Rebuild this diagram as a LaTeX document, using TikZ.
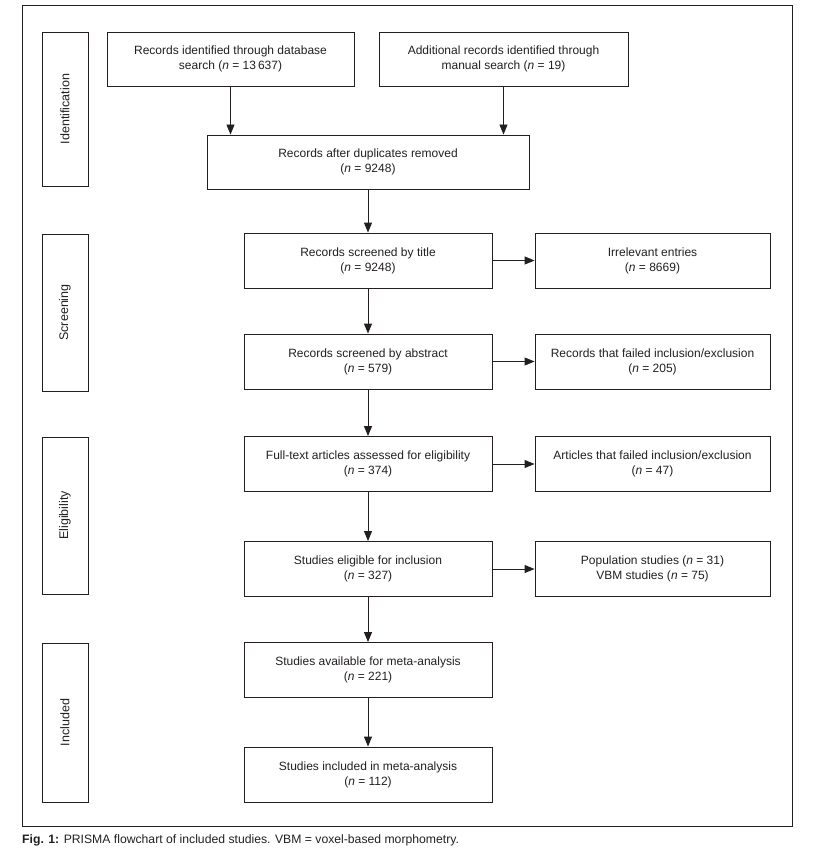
\documentclass[tikz,border=0pt]{standalone}
\usepackage{fontspec}
\setmainfont{Liberation Sans}
\usepackage{tikz}
\definecolor{ink}{RGB}{35, 31, 32}
\usetikzlibrary{positioning}
\usetikzlibrary{arrows.meta}

\begin{document}
\begin{tikzpicture}
				[x=1pt,y=-1pt,every node/.style={inner sep=0pt},
				box/.style={rectangle, draw=ink, line width=0.9pt, align=center, font=\fontsize{12}{15}\selectfont, text=ink},
				stage/.style={rectangle, draw=ink, line width=0.9pt, minimum width=46pt},
				stagelabel/.style={rotate=90, font=\fontsize{12.5}{15}\selectfont, text=ink},
				flow/.style={line width=0.9pt, color=ink, -{Triangle[length=10pt,width=8pt]}}]
				\useasboundingbox (0,0) rectangle (820,856);
				\draw [line width=0.9pt, color=ink] (22,5) rectangle (792,826);
				% stage boxes on the left
				\node (sident) [stage, minimum height=154pt] at (65, 109) {};
				\node (sscreen) [stage, minimum height=157pt] at (65, 312.5) {};
				\node (selig) [stage, minimum height=157pt] at (65, 515.5) {};
				\node (sincl) [stage, minimum height=159pt] at (65, 722.5) {};
				\node (lident) [stagelabel] at (sident) {Identification};
				\node (lscreen) [stagelabel] at (sscreen) {Screening};
				\node (lelig) [stagelabel] at (selig) {Eligibility};
				\node (lincl) [stagelabel] at (sincl) {Included};
				% main column
				\node (db) [box, minimum width=247pt, minimum height=54pt] at (230.5, 59) {Records identified through database\\search (\textit{n} = 13\,637)};
				\node (add) [box, minimum width=249pt, minimum height=54pt] at (503.5, 59) {Additional records identified through\\manual search (\textit{n} = 19)};
				\node (dup) [box, minimum width=322pt, minimum height=54pt] at (368, 162) {Records after duplicates removed\\(\textit{n} = 9248)};
				\node (title) [box, minimum width=248pt, minimum height=55pt] at (368, 260.5) {Records screened by title\\(\textit{n} = 9248)};
				\node (abs) [box, minimum width=248pt, minimum height=55pt] at (368, 361.5) {Records screened by abstract\\(\textit{n} = 579)};
				\node (full) [box, minimum width=248pt, minimum height=55pt] at (368, 464) {Full-text articles assessed for eligibility\\(\textit{n} = 374)};
				\node (elig) [box, minimum width=248pt, minimum height=55pt] at (368, 569) {Studies eligible for inclusion\\(\textit{n} = 327)};
				\node (avail) [box, minimum width=248pt, minimum height=55pt] at (368, 670) {Studies available for meta-analysis\\(\textit{n} = 221)};
				\node (incl) [box, minimum width=248pt, minimum height=55pt] at (368, 774.5) {Studies included in meta-analysis\\(\textit{n} = 112)};
				% excluded column
				\node (irr) [box, minimum width=235pt, minimum height=55pt] at (652.5, 260.5) {Irrelevant entries\\(\textit{n} = 8669)};
				\node (recfail) [box, minimum width=235pt, minimum height=55pt] at (652.5, 361.5) {Records that failed inclusion/exclusion\\(\textit{n} = 205)};
				\node (artfail) [box, minimum width=235pt, minimum height=55pt] at (652.5, 464) {Articles that failed inclusion/exclusion\\(\textit{n} = 47)};
				\node (pop) [box, minimum width=235pt, minimum height=55pt] at (652.5, 569) {Population studies (\textit{n} = 31)\\VBM studies (\textit{n} = 75)};
				\draw [flow] (db.south) to (db.south |- dup.north);
				\draw [flow] (add.south) to (add.south |- dup.north);
				\draw [flow] (dup.south) to (title.north);
				\draw [flow] (title.south) to (abs.north);
				\draw [flow] (abs.south) to (full.north);
				\draw [flow] (full.south) to (elig.north);
				\draw [flow] (elig.south) to (avail.north);
				\draw [flow] (avail.south) to (incl.north);
				\draw [flow] (title.east) to (irr.west);
				\draw [flow] (abs.east) to (recfail.west);
				\draw [flow] (full.east) to (artfail.west);
				\draw [flow] (elig.east) to (pop.west);
				\node (caption) [anchor=west, font=\fontsize{12.2}{14}\selectfont, text=ink] at (22, 840) {\textbf{Fig. 1:} PRISMA flowchart of included studies. VBM = voxel-based morphometry.};
		\end{tikzpicture}
\end{document}
